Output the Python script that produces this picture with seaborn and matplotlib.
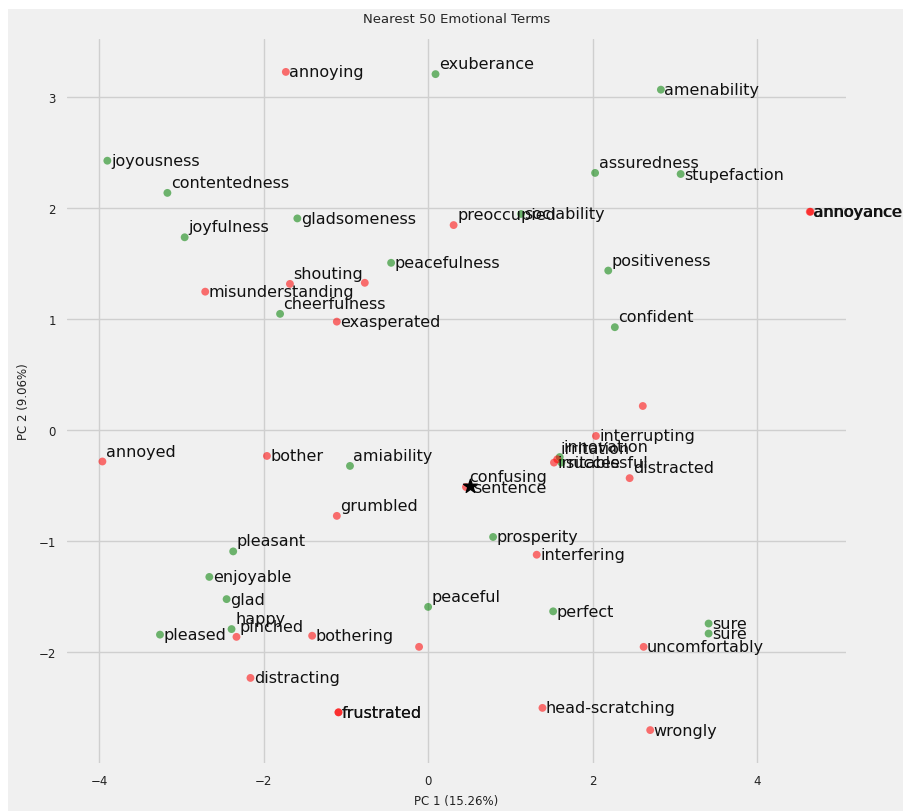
import matplotlib
matplotlib.use("Agg")
import matplotlib.pyplot as plt
import pandas as pd
import seaborn as sns
from matplotlib.patches import Rectangle

# Terms nearest to the query sentence, projected onto the first two principal components
terms = [
    "exuberance", "amenability", "joyousness", "contentedness", "joyfulness",
    "gladsomeness", "assuredness", "stupefaction", "sociability", "peacefulness",
    "positiveness", "cheerfulness", "confident", "amiability", "innovation",
    "successful", "prosperity", "pleasant", "enjoyable", "glad",
    "happy", "peaceful", "perfect", "pleased", "sure", "sure",
    "annoying", "annoyance", "annoyance", "preoccupied", "shouting", "",
    "misunderstanding", "exasperated", "", "interrupting", "irritation",
    "irritable", "distracted", "annoyed", "bother", "confusing", "grumbled",
    "interfering", "bothering", "pinched", "", "uncomfortably", "distracting",
    "frustrated", "frustrated", "head-scratching", "wrongly",
]
pc1 = [
    0.09, 2.83, -3.90, -3.17, -2.96,
    -1.59, 2.03, 3.07, 1.13, -0.45,
    2.19, -1.80, 2.27, -0.95, 1.60,
    1.62, 0.79, -2.37, -2.66, -2.45,
    -2.39, 0.00, 1.52, -3.26, 3.41, 3.41,
    -1.73, 4.64, 4.65, 0.31, -1.68, -0.77,
    -2.71, -1.11, 2.61, 2.04, 1.57,
    1.53, 2.45, -3.96, -1.96, 0.46, -1.11,
    1.32, -1.41, -2.33, -0.11, 2.62, -2.16,
    -1.09, -1.09, 1.39, 2.70,
]
pc2 = [
    3.21, 3.07, 2.43, 2.14, 1.74,
    1.91, 2.32, 2.31, 1.95, 1.51,
    1.44, 1.05, 0.93, -0.32, -0.24,
    -0.29, -0.96, -1.09, -1.32, -1.52,
    -1.79, -1.59, -1.63, -1.84, -1.74, -1.83,
    3.23, 1.97, 1.97, 1.85, 1.32, 1.33,
    1.25, 0.98, 0.22, -0.05, -0.26,
    -0.29, -0.43, -0.28, -0.23, -0.51, -0.77,
    -1.12, -1.85, -1.86, -1.95, -1.95, -2.23,
    -2.54, -2.54, -2.50, -2.70,
]
polarity = ["positive"] * 26 + ["negative"] * 27

# The query sentence itself
query_label = "sentence"
query_pc1 = 0.51
query_pc2 = -0.50

title = "Nearest 50 Emotional Terms"
xlabel = "PC 1 (15.26%)"
ylabel = "PC 2 (9.06%)"

# labels set slightly above their point
raised = {
    "exuberance", "contentedness", "joyfulness", "assuredness", "positiveness",
    "cheerfulness", "confident", "amiability", "innovation", "pleasant", "happy",
    "peaceful", "preoccupied", "shouting", "irritation", "distracted", "annoyed",
    "confusing", "grumbled", "pinched",
}

df = pd.DataFrame({"term": terms, "pc1": pc1, "pc2": pc2, "polarity": polarity})

BG = "#f0f0f0"
sns.set_theme(style="whitegrid", rc={
    "axes.facecolor": BG,
    "figure.facecolor": "white",
    "grid.color": "#cfcfcf",
    "grid.linewidth": 1.0,
    "axes.edgecolor": BG,
    "axes.linewidth": 0,
    "xtick.major.size": 0,
    "ytick.major.size": 0,
    "xtick.color": "#222222",
    "ytick.color": "#222222",
    "axes.labelcolor": "#222222",
})
plt.rcParams["font.family"] = ["DejaVu Sans"]

fig = plt.figure(figsize=(9.04, 8.12), dpi=100)
fig.add_artist(Rectangle((8 / 904, 0), 1, 1 - 10 / 812, transform=fig.transFigure,
                         facecolor=BG, edgecolor="none", zorder=-10))
ax = fig.add_axes([67 / 904, 1 - 764 / 812, (846 - 67) / 904, (764 - 40) / 812])

sns.scatterplot(data=df, x="pc1", y="pc2", hue="polarity",
                palette={"positive": "green", "negative": "red"},
                alpha=0.55, s=32, linewidth=0, legend=False, ax=ax, zorder=3)
ax.scatter([query_pc1], [query_pc2], marker="*", s=110, color="black", zorder=4)

for t, x, y in zip(terms, pc1, pc2):
    if not t:
        continue
    dy = 7.5 if t in raised else 0
    ax.annotate(t, (x, y), xytext=(2.5, dy), textcoords="offset points",
                ha="left", va="center", fontsize=11.5, color="#111111",
                annotation_clip=False, zorder=5)
ax.annotate(query_label, (query_pc1, query_pc2), xytext=(2.5, -1),
            textcoords="offset points", ha="left", va="center",
            fontsize=11.5, color="#111111", zorder=5)

ax.set_xticks([-4, -2, 0, 2, 4])
ax.set_yticks([-2, -1, 0, 1, 2, 3])
ax.tick_params(labelsize=8.5, pad=8)
ax.set_xlabel(xlabel, fontsize=8.5, labelpad=5)
ax.set_ylabel(ylabel, fontsize=8.5, labelpad=6)
ax.set_title(title, fontsize=9.5, pad=12)
for s in ax.spines.values():
    s.set_visible(False)
ax.grid(True)

fig.savefig("out.png", dpi=100)
